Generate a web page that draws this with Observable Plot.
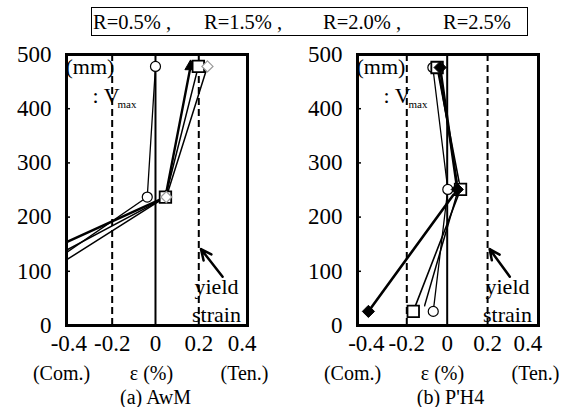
<!DOCTYPE html>
<html><head><meta charset="utf-8">
<script src="https://cdn.jsdelivr.net/npm/d3@7"></script>
<script src="https://cdn.jsdelivr.net/npm/@observablehq/plot@0.6"></script>
<style>
body{margin:0;background:#fff;}
#chart{position:relative;width:571px;height:407px;overflow:hidden;font-family:"Liberation Serif","Times New Roman",serif;color:#000;}
#chart svg{position:absolute;top:0;overflow:visible;}
#legend{position:absolute;left:91px;top:7px;width:435px;height:27px;border:1.5px solid #000;}
.leg{position:absolute;top:4px;font-size:20.5px;line-height:20px;white-space:pre;}
</style></head><body><div id="chart"><div id="legend"></div></div>
<script>
// ---- data ----
const seriesNames = ["R=0.5%", "R=1.5%", "R=2.0%", "R=2.5%"];
const legendText = ["R=0.5% ,", "R=1.5% ,", "R=2.0% ,", "R=2.5%"];
// (a) AwM : gauge heights (mm) and strains (%) per drift angle
const gaugeAwM = [478, 237, 25];
const awmR05 = [0.0, -0.038, -0.81];
const awmR15 = [0.198, 0.046, -0.79];
const awmR20 = [0.24, 0.05, -0.95];
const awmR25 = [0.162, 0.046, -1.12];
// (b) P'H4
const gaugePH4 = [476, 251, 26];
const ph4R05 = [-0.071, 0.003, -0.069];
const ph4R15 = [-0.05, 0.066, -0.168];
const ph4R20 = [-0.045, 0.055, -0.12];
const ph4R25 = [-0.035, 0.05, -0.39];
// axes
const xTicks = [-0.4, -0.2, 0, 0.2, 0.4];
const yTicks = [0, 100, 200, 300, 400, 500];
const yieldStrain = [-0.2, 0.2];
const arrowTail = [0.31, 90];
const arrowTip = [0.21, 141];
const bottomLabels = ["(Com.)", "ε (%)", "(Ten.)"];

// ---- build ----
const rows = (gauge, vals) => vals.map((v, i) => ({strain: v, h: gauge[i]}));
const awmSeries = {"R=0.5%": rows(gaugeAwM, awmR05), "R=1.5%": rows(gaugeAwM, awmR15), "R=2.0%": rows(gaugeAwM, awmR20), "R=2.5%": rows(gaugeAwM, awmR25)};
const ph4Series = {"R=0.5%": rows(gaugePH4, ph4R05), "R=1.5%": rows(gaugePH4, ph4R15), "R=2.0%": rows(gaugePH4, ph4R20), "R=2.5%": rows(gaugePH4, ph4R25)};

const awmStyles = {
  "R=0.5%": {symbol: "circle", r: 5, fill: "white", stroke: "black", sw: 1.2, lw: 1.3},
  "R=1.5%": {symbol: "square", r: 6.5, fill: "white", stroke: "black", sw: 1.8, lw: 1.5},
  "R=2.0%": {symbol: "diamond2", r: 5, fill: "white", stroke: "#999", sw: 1.2, lw: 1.5},
  "R=2.5%": {symbol: "triangle", r: 4.2, fill: "black", stroke: "black", sw: 1, lw: 2.4}
};
const awmOrder = ["R=2.5%", "R=0.5%", "R=1.5%", "R=2.0%"];
const ph4Styles = {
  "R=0.5%": {symbol: "circle", r: 5, fill: "white", stroke: "black", sw: 1.2, lw: 1.3},
  "R=1.5%": {symbol: "square", r: 6.5, fill: "white", stroke: "black", sw: 1.8, lw: 1.6},
  "R=2.0%": {symbol: "triangle", r: 5, fill: "white", stroke: "none", sw: 0, lw: 1.5},
  "R=2.5%": {symbol: "diamond2", r: 5.5, fill: "black", stroke: "black", sw: 1, lw: 2.6}
};
const ph4Order = ["R=2.0%", "R=0.5%", "R=1.5%", "R=2.5%"];

function panel({left, width, marginLeft, marginRight, xDomain, series, styles, order, caption, captionDx}) {
  const frameW = width - marginLeft - marginRight;
  const marks = [
    Plot.ruleX([0], {strokeWidth: 2}),
    Plot.ruleX(yieldStrain, {strokeWidth: 2, strokeDasharray: "7,4"}),
    Plot.tickY(yTicks, {y: d => d, insetRight: frameW - 4, strokeWidth: 1.5})
  ];
  for (const name of seriesNames) {
    marks.push(Plot.line(series[name], {x: "strain", y: "h", stroke: "black", strokeWidth: styles[name].lw, clip: true}));
  }
  for (const name of order) {
    const s = styles[name];
    marks.push(Plot.dot(series[name], {x: "strain", y: "h", symbol: s.symbol, r: s.r, fill: s.fill, stroke: s.stroke, strokeWidth: s.sw, clip: true}));
  }
  marks.push(
    Plot.text(["(mm)"], {text: d => d, frameAnchor: "top-left", textAnchor: "start", lineAnchor: "top", dx: -1, dy: 4, fontSize: 22}),
    Plot.text([": V"], {text: d => d, frameAnchor: "top-left", textAnchor: "start", lineAnchor: "top", dx: 26, dy: 33, fontSize: 22}),
    Plot.text(["max"], {text: d => d, frameAnchor: "top-left", textAnchor: "start", lineAnchor: "top", dx: 51, dy: 46, fontSize: 11}),
    Plot.text(["yield"], {text: d => d, frameAnchor: "bottom-right", textAnchor: "middle", lineAnchor: "top", dx: -31, dy: -47, fontSize: 22}),
    Plot.text(["strain"], {text: d => d, frameAnchor: "bottom-right", textAnchor: "middle", lineAnchor: "top", dx: -31, dy: -19, fontSize: 22}),
    Plot.arrow([{x1: arrowTail[0], y1: arrowTail[1], x2: arrowTip[0], y2: arrowTip[1]}], {x1: "x1", y1: "y1", x2: "x2", y2: "y2", stroke: "black", strokeWidth: 2.5, headLength: 9, headAngle: 50}),
    Plot.text([bottomLabels[0]], {text: d => d, frameAnchor: "bottom-left", textAnchor: "middle", lineAnchor: "middle", dx: -5, dy: 48, fontSize: 20}),
    Plot.text([bottomLabels[1]], {text: d => d, frameAnchor: "bottom-left", textAnchor: "middle", lineAnchor: "middle", dx: 85, dy: 48, fontSize: 20}),
    Plot.text([bottomLabels[2]], {text: d => d, frameAnchor: "bottom-left", textAnchor: "middle", lineAnchor: "middle", dx: 178, dy: 48, fontSize: 20}),
    Plot.text([caption], {text: d => d, frameAnchor: "bottom-left", textAnchor: "middle", lineAnchor: "middle", dx: captionDx, dy: 72, fontSize: 20}),
    Plot.axisX(xTicks, {tickSize: 0, tickPadding: 9, tickFormat: d => String(d), fontSize: 23}),
    Plot.axisY(yTicks, {tickSize: 0, tickPadding: 15, tickFormat: d => String(d), fontSize: 23}),
    Plot.frame({strokeWidth: 3})
  );
  const svg = Plot.plot({
    width, height: 407,
    marginLeft, marginRight, marginTop: 54, marginBottom: 82,
    x: {domain: xDomain, axis: null},
    y: {domain: [0, 500], axis: null},
    style: {fontFamily: "'Liberation Serif','Times New Roman',serif", fontSize: "23px", background: "transparent", color: "black"},
    marks
  });
  svg.style.left = left + "px";
  return svg;
}

const chart = document.getElementById("chart");
chart.appendChild(panel({left: 0, width: 285, marginLeft: 66, marginRight: 38, xDomain: [-0.411, 0.425], series: awmSeries, styles: awmStyles, order: awmOrder, caption: "(a) AwM", captionDx: 89}));
chart.appendChild(panel({left: 285, width: 286, marginLeft: 72, marginRight: 33, xDomain: [-0.444, 0.452], series: ph4Series, styles: ph4Styles, order: ph4Order, caption: "(b) P'H4", captionDx: 93}));

const legend = document.getElementById("legend");
const legX = [1, 112, 231, 351];
legendText.forEach((t, i) => {
  const s = document.createElement("span");
  s.className = "leg"; s.textContent = t; s.style.left = legX[i] + "px";
  legend.appendChild(s);
});
</script></body></html>
